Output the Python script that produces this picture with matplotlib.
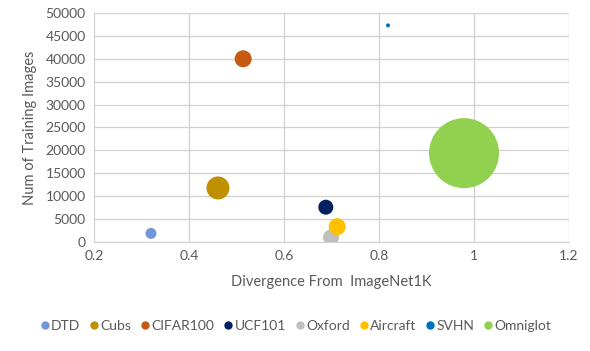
import matplotlib
matplotlib.use("Agg")
import matplotlib.pyplot as plt
from matplotlib.lines import Line2D
import numpy as np

plt.rcParams['font.family'] = ['Lato', 'DejaVu Sans']

names = ['DTD', 'Cubs', 'CIFAR100', 'UCF101', 'Oxford', 'Aircraft', 'SVHN', 'Omniglot']
divergence = [0.32, 0.461, 0.514, 0.688, 0.699, 0.712, 0.819, 0.979]
n_train = [1880, 11800, 40000, 7600, 1020, 3334, 47300, 19400]
bubble = [121, 530, 289, 225, 256, 289, 16, 4900]
colors = ['#7096d8', '#bf9000', '#c55a11', '#002060', '#bfbfbf', '#ffc000', '#0070c0', '#92d050']

fig = plt.figure(figsize=(5.9, 3.51), dpi=100, facecolor='w')
ax = fig.add_axes([94/590, 1 - 242/351, 475/590, 229/351])

# bubble area proportional to value (largest ~70px across)
scale = 70 * 0.72
sizes = [(np.sqrt(b / max(bubble)) * scale) ** 2 for b in bubble]
for x, y, s, c in zip(divergence, n_train, sizes, colors):
    ax.scatter(x, y, s=s, color=c, edgecolors='none', zorder=3)

ax.set_xlim(0.2, 1.2)
ax.set_ylim(0, 50000)
ax.set_xticks([0.2, 0.4, 0.6, 0.8, 1.0, 1.2])
ax.set_xticklabels(['0.2', '0.4', '0.6', '0.8', '1', '1.2'])
ax.set_yticks(np.arange(0, 50001, 5000))
ax.grid(True, color='#d0d0d0', linewidth=0.9)
ax.set_axisbelow(True)
for side in ['top', 'right', 'left']:
    ax.spines[side].set_visible(False)
ax.spines['bottom'].set_color('#d0d0d0')
ax.tick_params(length=0, colors='#595959', labelsize=10, pad=6)
ax.set_xlabel('Divergence From  ImageNet1K', color='#595959', fontsize=10.5, labelpad=9)
ax.set_ylabel('Num of Training Images', color='#595959', fontsize=10.5, labelpad=6)

handles = [Line2D([], [], marker='o', linestyle='none', color=c, markersize=5) for c in colors]
fig.legend(handles, names, loc='center', bbox_to_anchor=(0.5, 1 - 326/351), ncol=8,
           frameon=False, fontsize=10, labelcolor='#595959', handletextpad=0.0,
           columnspacing=0.55, handlelength=0.9)

fig.savefig('out.png', dpi=100)
